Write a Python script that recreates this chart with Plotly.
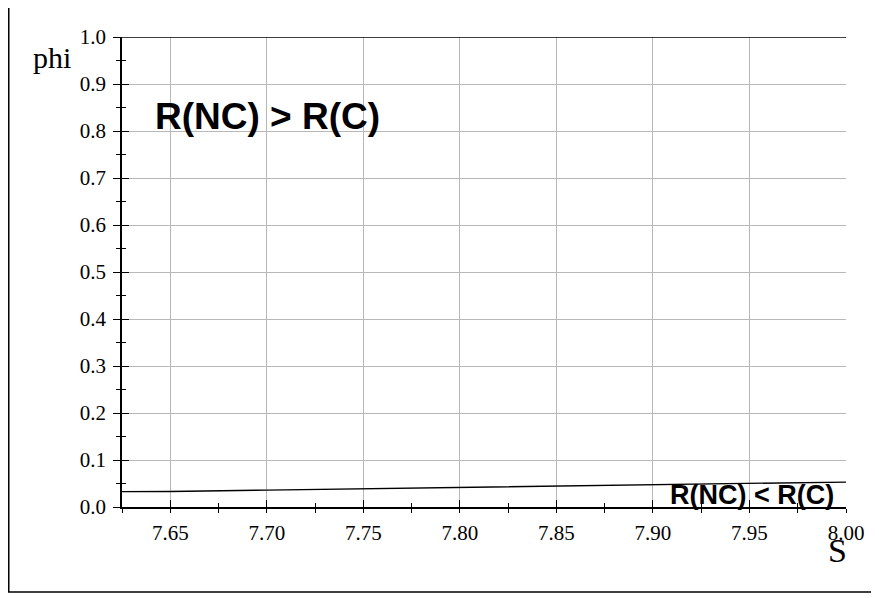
import plotly.graph_objects as go

# Data
S_vals = [7.625, 7.65, 7.70, 7.75, 7.80, 7.85, 7.90, 7.95, 8.00]
phi_vals = [0.0326, 0.033, 0.036, 0.039, 0.0425, 0.045, 0.048, 0.0505, 0.053]
top_S = [7.625, 8.00]
top_phi = [1.0, 1.0]

x_range = [7.625, 8.0]
y_range = [0.0, 1.0]

fig = go.Figure()
fig.add_trace(go.Scatter(x=S_vals, y=phi_vals, mode="lines",
                         line=dict(color="black", width=1.3),
                         showlegend=False, hoverinfo="skip"))
fig.add_trace(go.Scatter(x=top_S, y=top_phi, mode="lines",
                         line=dict(color="black", width=1.6),
                         showlegend=False, hoverinfo="skip",
                         xaxis="x2", yaxis="y2"))

tickfont = dict(family="Liberation Serif", size=21, color="black")
grid = "#b8b8b8"

fig.update_layout(
    width=871, height=590,
    margin=dict(l=114, r=33, t=29, b=91),
    paper_bgcolor="white", plot_bgcolor="white",
    xaxis=dict(range=x_range, tick0=7.65, dtick=0.05, tickformat=".2f",
               showgrid=True, gridcolor=grid, gridwidth=1,
               showline=True, linecolor="black", linewidth=1.5,
               ticks="outside", ticklen=4, tickwidth=1.3, tickcolor="black",
               minor=dict(dtick=0.025, tick0=7.625, ticks="outside", ticklen=4,
                          tickwidth=1.2, tickcolor="black", showgrid=False),
               tickfont=tickfont, ticklabelstandoff=2, zeroline=False,
               fixedrange=True),
    yaxis=dict(range=y_range, tick0=0, dtick=0.1, tickformat=".1f",
               showgrid=True, gridcolor=grid, gridwidth=1,
               showline=True, linecolor="black", linewidth=1.5,
               ticks="outside", ticklen=7, tickwidth=1.3, tickcolor="black",
               minor=dict(dtick=0.05, tick0=0, ticks="outside", ticklen=4,
                          tickwidth=1.2, tickcolor="black", showgrid=False),
               tickfont=tickfont, ticklabelstandoff=3, zeroline=False,
               fixedrange=True),
    xaxis2=dict(range=x_range, overlaying="x", anchor="y", side="bottom",
                tick0=7.65, dtick=0.05, showgrid=False, showticklabels=False,
                showline=False, zeroline=False,
                ticks="inside", ticklen=7, tickwidth=1.3, tickcolor="black",
                minor=dict(dtick=0.025, tick0=7.625, ticks="inside", ticklen=4,
                           tickwidth=1.2, tickcolor="black", showgrid=False)),
    yaxis2=dict(range=y_range, overlaying="y", anchor="x", side="left",
                tick0=0, dtick=0.1, showgrid=False, showticklabels=False,
                showline=False, zeroline=False,
                ticks="inside", ticklen=7, tickwidth=1.3, tickcolor="black",
                minor=dict(dtick=0.05, tick0=0, ticks="inside", ticklen=4,
                           tickwidth=1.2, tickcolor="black", showgrid=False)),
)

# Outer frame (left and bottom edges visible in the reference)
fig.add_shape(type="path", xref="paper", yref="paper",
              path="M -0.1564 1.2 L -0.1564 -0.181 L 1.2 -0.181",
              line=dict(color="black", width=1.5))

fig.add_annotation(text="<b>R(NC) &gt; R(C)</b>", x=7.641, y=0.83,
                   xref="x", yref="y", xanchor="left", yanchor="middle",
                   showarrow=False,
                   font=dict(family="Liberation Sans", size=37, color="black"))
fig.add_annotation(text="<b>R(NC) &lt; R(C)</b>", x=7.908, y=0.026,
                   xref="x", yref="y", xanchor="left", yanchor="middle",
                   showarrow=False,
                   font=dict(family="Liberation Sans", size=27, color="black"))
fig.add_annotation(text="phi", x=-0.0967, y=0.957, xref="paper", yref="paper",
                   xanchor="center", yanchor="middle", showarrow=False,
                   font=dict(family="Liberation Serif", size=30, color="black"))
fig.add_annotation(text="S", x=0.9876, y=-0.0936, xref="paper", yref="paper",
                   xanchor="center", yanchor="middle", showarrow=False,
                   font=dict(family="Liberation Serif", size=34, color="black"))

fig.write_html("out.html", config={"displayModeBar": False})
